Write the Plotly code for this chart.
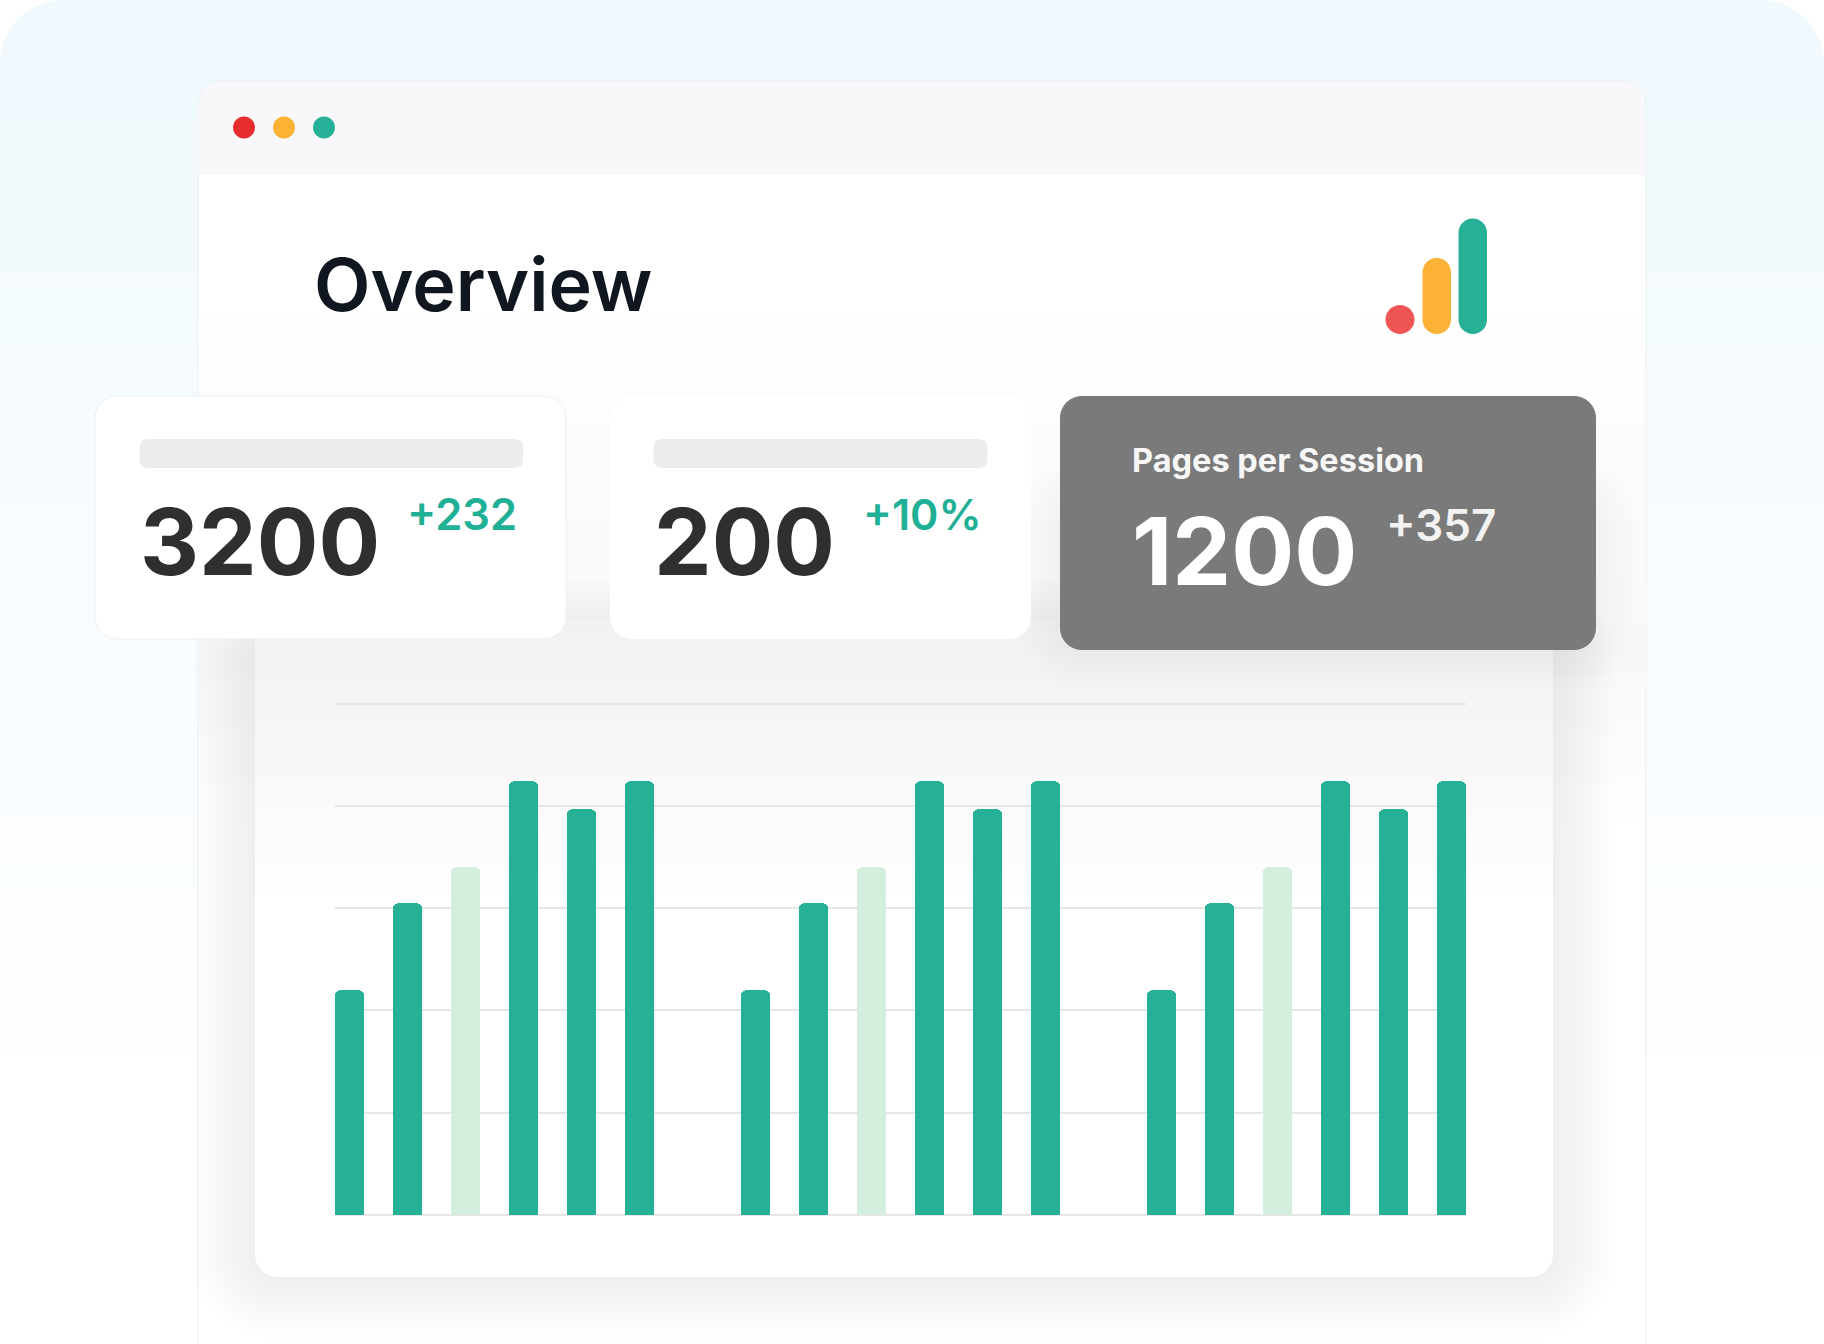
import plotly.graph_objects as go

W = 1824
H = 1344

# bar heights, same six repeated in each of the three groups
group_values = [220, 305, 340, 424, 397, 424]
group_colors = ["#26b197", "#26b197", "#d3eedd", "#26b197", "#26b197", "#26b197"]
group_starts = [0, 7, 14]
grid_ticks = [0, 100, 200, 300, 400, 500]

# text on the cards
title = "Overview"
card_numbers = ["3200", "200", "1200"]
card_deltas = ["+232", "+10%", "+357"]
card_label = "Pages per Session"


def px(x):
    return x / W


def py(y):
    return (H - y) / H


def rrect_path(x0, y0, x1, y1, r):
    # rounded rectangle in page pixels, y going down
    k = r * 0.45
    pts = [
        ("M", x0 + r, y0),
        ("L", x1 - r, y0),
        ("C", x1 - k, y0, x1, y0 + k, x1, y0 + r),
        ("L", x1, y1 - r),
        ("C", x1, y1 - k, x1 - k, y1, x1 - r, y1),
        ("L", x0 + r, y1),
        ("C", x0 + k, y1, x0, y1 - k, x0, y1 - r),
        ("L", x0, y0 + r),
        ("C", x0, y0 + k, x0 + k, y0, x0 + r, y0),
    ]
    out = ""
    for p in pts:
        vals = p[1:]
        coords = []
        for i in range(0, len(vals), 2):
            coords.append("%.5f,%.5f" % (px(vals[i]), py(vals[i + 1])))
        out += p[0] + " ".join(coords) + " "
    return out + "Z"


shapes = []


def box(x0, y0, x1, y1, r, fill, line=None):
    shapes.append(dict(
        type="path", xref="paper", yref="paper", layer="below",
        path=rrect_path(x0, y0, x1, y1, r), fillcolor=fill,
        line=dict(color=line or "rgba(0,0,0,0)", width=1 if line else 0),
    ))


def strip(x0, y0, x1, y1, fill):
    shapes.append(dict(
        type="rect", xref="paper", yref="paper", layer="below",
        x0=px(x0), x1=px(x1), y0=py(y0), y1=py(y1), fillcolor=fill, line=dict(width=0),
    ))


def shadow(x0, y0, x1, y1, r, spread, steps, alpha):
    for i in range(steps):
        d = spread * (1 - i / steps)
        box(x0 - d, y0 - d, x1 + d, y1 + d, r + d, "rgba(40,50,60,%.4f)" % alpha)


def mix(c0, c1, t):
    return "rgb(%d,%d,%d)" % tuple(round(a + (b - a) * t) for a, b in zip(c0, c1))


# page background, pale blue fading to white downwards
step = 12
for y in range(0, H, step):
    t = min(y / 1150, 1)
    strip(0, y, W, y + step, mix((240, 249, 254), (255, 255, 255), t))

# white corners of the background panel
for cx, sx in ((0, 1), (W, -1)):
    shapes.append(dict(
        type="path", xref="paper", yref="paper", layer="below", fillcolor="white", line=dict(width=0),
        path="M%.5f,%.5f L%.5f,%.5f C%.5f,%.5f %.5f,%.5f %.5f,%.5f Z" % (
            px(cx), py(0), px(cx + sx * 64), py(0), px(cx + sx * 28), py(0),
            px(cx), py(28), px(cx), py(64)),
    ))

# soft shadow that spills out on the left of the window
shadow(130, 560, 1400, 920, 80, 130, 14, 0.0012)

# window
box(198, 81, 1646, 1420, 24, "white", "#e9eff3")
box(198.5, 81.5, 1645.5, 175, 24, "#f8f8fa")
strip(198.5, 140, 1645.5, 175, "#f8f8fa")
for y in range(280, 652, step):
    strip(199, y, 1645, y + step, mix((255, 255, 255), (248, 248, 248), (y - 280) / 372))
for y in range(652, 820, step):
    strip(199, y, 1645, y + step, mix((248, 248, 248), (255, 255, 255), (y - 652) / 168))

# window dots
for cx, col in ((244, "#e52d2d"), (284, "#fdb236"), (324, "#25b097")):
    box(cx - 11, 116.5, cx + 11, 138.5, 11, col)

# logo
box(1385.5, 305, 1414.5, 334, 14.5, "#ee5655")
box(1422.5, 258, 1451, 334, 14.2, "#fbb236")
box(1458.5, 218.5, 1487, 334, 14.2, "#26b197")

# chart card and its shadow
shadow(255, 640, 1553, 1277, 22, 62, 16, 0.0045)
box(255, 620, 1553, 1277, 22, "white")
for y in range(620, 900, step):
    strip(255, y, 1553, y + step, mix((241, 241, 241), (255, 255, 255), (y - 620) / 280))

# stat cards
shadow(566, 470, 610, 639, 10, 30, 8, 0.0015)
shadow(1031, 470, 1060, 639, 10, 30, 8, 0.0015)
shadow(1060, 500, 1596, 650, 22, 40, 8, 0.002)
box(95, 396, 566, 639, 22, "white", "#eceff2")
box(610, 396, 1031, 639, 22, "white")
box(1060, 396, 1596, 650, 22, "#7a7a7a")
box(139.5, 439, 523, 468, 8, "#ececec")
box(653.5, 439, 987.5, 468, 8, "#ececec")

fig = go.Figure()

for start in group_starts:
    fig.add_trace(go.Bar(
        x=[start + i for i in range(len(group_values))],
        y=group_values,
        width=0.5,
        marker=dict(color=group_colors, line=dict(width=0), cornerradius=5),
        showlegend=False,
        hoverinfo="skip",
    ))


def label(text, x, y, size, color, weight):
    fig.add_annotation(
        text=text, x=px(x), y=py(y), xref="paper", yref="paper",
        xanchor="left", yanchor="middle", showarrow=False, borderpad=0,
        font=dict(family="Inter", size=size, color=color, weight=weight),
    )


label(title, 313, 285, 73.5, "#111720", 600)
label(card_numbers[0], 139, 541, 91.5, "#2f2f2f", 700)
label(card_deltas[0], 406, 514, 43.5, "#1fb096", 600)
label(card_numbers[1], 653, 541, 91.5, "#2f2f2f", 700)
label(card_deltas[1], 862, 514, 43, "#1fb096", 600)
label(card_label, 1131, 460, 32.5, "#f7f7f7", 700)
label(card_numbers[2], 1131, 551, 93.5, "#ffffff", 700)
label(card_deltas[2], 1385, 525, 44, "#f2f2f2", 600)

fig.update_layout(
    width=W,
    height=H,
    margin=dict(l=0, r=0, t=0, b=0),
    paper_bgcolor="white",
    plot_bgcolor="rgba(0,0,0,0)",
    shapes=shapes,
    bargap=0,
    xaxis=dict(
        domain=[px(335), px(1466)], range=[-0.25, 19.25],
        showgrid=False, zeroline=False, showticklabels=False, ticks="",
    ),
    yaxis=dict(
        domain=[py(1215), py(693.3)], range=[0, 510], tickvals=grid_ticks,
        showgrid=True, gridcolor="#e6e6e6", gridwidth=2,
        zeroline=True, zerolinecolor="#e6e6e6", zerolinewidth=2,
        showticklabels=False, ticks="",
    ),
)

fig.write_html("out.html", config=dict(displayModeBar=False), post_script="document.body.style.margin='0';")
